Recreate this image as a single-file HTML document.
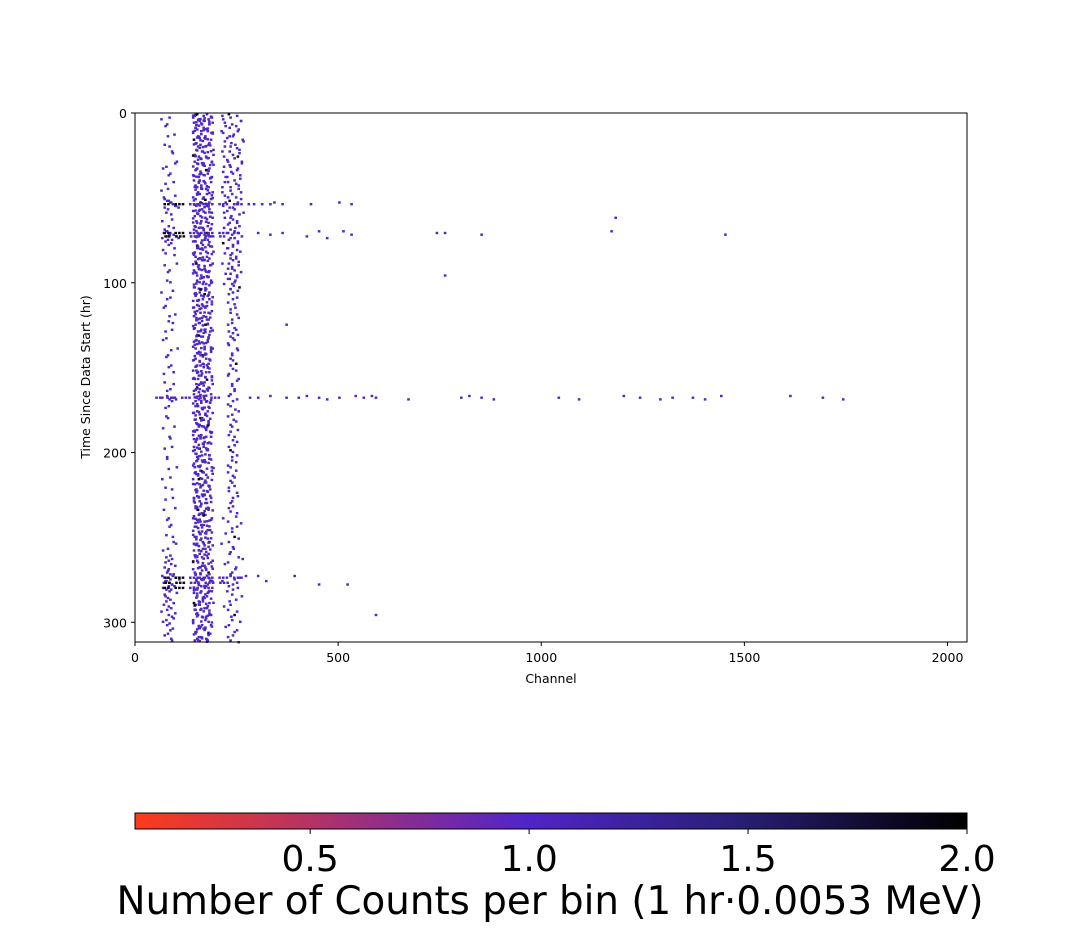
<!DOCTYPE html>
<html><head><meta charset="utf-8"><style>
body{margin:0;background:#fff;font-family:"DejaVu Sans",sans-serif;}
svg text{font-family:"DejaVu Sans",sans-serif;}
</style></head><body>
<svg id="chart" width="1074" height="932">
<defs><linearGradient id="cg" x1="0" x2="1" y1="0" y2="0">
<stop offset="0" stop-color="#fc3b1c"/><stop offset="0.2" stop-color="#b83460"/><stop offset="0.4" stop-color="#6b28b0"/><stop offset="0.47" stop-color="#5025c8"/><stop offset="0.72" stop-color="#2a1f78"/><stop offset="0.9" stop-color="#0e0a28"/><stop offset="1" stop-color="#000"/></linearGradient></defs>
<rect x="135" y="113" width="832" height="529" fill="#fff"/>
<g id="cells"></g>
<rect x="135" y="113" width="832" height="529" fill="none" stroke="#000" stroke-width="1"/>
<g id="axes"></g>
<text x="551" y="683" font-size="12.5" text-anchor="middle">Channel</text>
<text transform="translate(90,377) rotate(-90)" font-size="12.5" text-anchor="middle">Time Since Data Start (hr)</text>
<rect x="135" y="813" width="832" height="16" fill="url(#cg)" stroke="#000" stroke-width="1"/>
<g id="cbticks"></g>
<text x="550" y="914" font-size="38.8" text-anchor="middle">Number of Counts per bin (1 hr·0.0053 MeV)</text>
</svg>
<script>
// data
const xTicks=[0,500,1000,1500,2000];
const yTicks=[0,100,200,300];
const cbTicks=[0.5,1.0,1.5,2.0];
// dense band around channel 135-200
const bandBHours=[0,1,2,3,4,5,6,8,9,10,11,13,14,15,17,18,19,21,22,24,25,26,28,29,30,32,33,35,36,37,39,40,42,43,44,46,47,49,50,52,53,54,56,57,58,60,61,63,64,66,67,68,70,71,72,74,75,77,78,79,81,82,84,85,86,88,89,91,92,93,95,96,98,99,100,102,103,105,106,107,109,110,112,113,114,116,117,119,120,121,123,124,126,127,128,130,131,133,134,135,137,138,140,141,142,144,145,147,148,149,151,152,154,155,156,158,159,161,162,163,165,166,168,169,170,172,173,175,176,177,179,180,182,183,184,186,187,189,190,191,193,194,196,197,198,200,201,203,204,205,207,208,210,211,212,214,215,217,218,219,221,222,224,225,226,228,229,231,232,233,235,236,238,239,240,242,243,245,246,247,249,250,252,253,254,256,257,259,260,261,263,264,266,267,268,270,271,273,274,275,277,278,280,281,282,284,285,287,288,289,291,292,294,295,296,298,299,301,302,303,305,306,308,309,310];
const bandBCh1=[150,166,140,178,156,188,162,146,174,160,185,152,168,142,180,158,170,148,164,190,154,176,144,166,182,150,172,160,140,186,156,168,146,178,162,152,174,140,184,158,166,148,180,154,170,144,188,160,150,176,164,142,172,156,184,168,146,178,152,162,190,140,174,158,166,148,182,154,170,144,160,176,150,186,164,142,172,156,168,146,180,152,162,174,140,186,158,166,148,178,154,170,144,160,182,150,164,176,142,156,168,146,184,152,162,172,140,178,158,166,148,180,154,170,144,160,188,150,174,164,142,156,168,146,182,152,162,176,140,170,158,166,148,178,154,172,144,160,184,150,168,164,142,156,174,146,180,152,162,170,140,186,158,166,148,176,154,172,144,160,182,150,168,164,142,156,174,146,178,152,162,170,140,184,158,166,148,176,154,172,144,160,180,150,168,164,142,156,174,146,188,152,162,170,140,178,158,166,148,182,154,172,144,160,176,150,168,164,142,156,174,146,180,152,162,170,140,184,158,166,148,178,154,172,144,160,176,150,168,164,142,156,174,146];
const bandBCh2=[174,144,186,154,168,142,180,166,150,176,140,170,156,184,148,178,152,190,162,144,172,158,186,150,164,180,146,176,168,154,142,184,160,150,172,188,156,166,146,180,152,174,162,140,186,158,170,148,178,144,154,182,160,168,150,176,140,164,186,152,172,158,146,180,162,188,154,168,142,178,150,166,184,156,172,144,160,180,148,176,164,140,186,154,170,150,178,142,162,174,156,146,184,168,152,180,160,148,176,166,140,188,154,170,158,146,182,164,150,176,140,172,160,186,152,168,148,178,156,142,184,166,154,174,160,146,180,150,188,170,162,144,178,156,166,150,182,140,172,158,146,184,166,154,176,148,162,180,150,170,158,144,186,164,152,176,140,168,156,180,148,174,162,150,184,142,170,158,146,178,166,154,186,150,168,160,144,182,172,156,148,176,164,142,188,170,154,178,146,162,150,184,168,158,172,144,180,156,166,148,176,160,150,186,142,174,164,154,180,146,168,158,150,184,172,140,178,162,154,170,146,182,160,150,176,166,142,188,156,172];
// second band around channel 210-265
const bandCHours=[0,1,3,4,6,7,9,10,12,13,15,16,18,19,21,22,24,25,27,28,30,31,33,34,36,37,39,40,42,43,45,46,48,49,51,52,54,55,57,58,60,61,63,64,66,67,69,70,72,73,75,76,78,79,81,82,84,85,87,88,90,91,93,94,96,97,99,100,102,103,105,108,111,114,117,120,123,126,128,130,132,135,138,141,144,147,150,153,156,159,162,165,168,171,174,177,180,183,186,189,192,195,198,201,204,207,210,213,216,219,222,225,228,231,234,237,240,243,246,249,252,255,258,261,264,267,270,272,274,276,278,280,283,286,289,292,295,298,301,304,307,310];
const bandCCh=[228,248,214,258,236,220,252,210,240,230,262,218,244,232,254,212,238,250,224,260,230,216,248,234,256,220,242,226,252,212,232,258,218,246,230,250,214,238,224,264,234,218,248,230,254,216,242,226,260,232,250,214,238,224,256,218,246,232,252,212,236,226,258,220,248,230,242,216,254,232,238,248,226,244,232,252,236,242,228,250,238,226,248,236,232,246,238,228,252,236,242,232,248,226,244,236,240,232,250,228,238,242,232,248,236,226,246,238,232,242,228,250,236,238,232,246,226,248,236,242,228,238,232,252,226,246,236,232,242,248,228,238,236,246,232,226,242,236,228,248,238,232];
// sparse band around channel 62-110
const bandAHours=[2,6,12,18,22,28,31,35,40,44,48,50,51,52,53,54,55,58,62,66,68,69,70,71,72,73,74,76,79,82,88,92,98,104,108,113,118,122,127,132,138,142,148,152,158,162,166,167,168,172,178,184,190,196,202,208,214,220,226,232,238,242,248,252,256,260,262,264,266,268,270,271,272,273,274,275,276,277,278,279,280,282,284,286,288,290,292,294,296,298,300,303,306,309];
const bandACh=[82,76,94,70,88,100,74,84,92,78,96,70,80,86,90,98,104,74,88,80,70,76,84,92,98,104,78,86,94,72,100,82,76,90,84,72,96,80,88,74,102,78,86,92,70,84,76,90,98,80,74,94,82,88,76,100,84,72,90,96,80,86,74,92,78,84,88,72,96,80,76,84,90,98,106,74,82,88,94,78,86,100,72,84,92,80,76,96,88,74,82,90,78,86];
// horizontal streaks
const streakHours=[53,70,72,167,273,276,279];
const streakStart=[70,70,72,50,70,72,70];
const streakEnd=[280,250,220,210,260,240,200];
const streakCounts=[2,2,2,1,2,2,2];
// isolated points
const strayCh=[290,310,330,340,360,430,500,530,300,330,360,420,450,470,510,530,740,760,850,1170,1180,1450,760,370,280,300,330,370,400,420,450,470,500,540,560,580,590,670,800,820,850,880,1040,1090,1200,1240,1290,1320,1370,1400,1440,1610,1690,1740,270,300,320,390,450,520,590];
const strayHr=[53,53,53,52,53,53,52,53,70,71,70,72,69,73,69,71,70,70,71,69,61,71,95,124,167,167,166,167,167,166,167,168,167,166,167,166,167,168,167,166,167,168,167,168,166,167,168,167,167,168,166,166,167,168,272,272,275,272,277,277,295];
const chMax=2048, hrMax=311.6;
const X=c=>135+c/chMax*832, Y=h=>113+h/hrMax*529;
const ns="http://www.w3.org/2000/svg";
const cells=document.getElementById('cells');
function cell(c,h,n){const r=document.createElementNS(ns,'rect');
r.setAttribute('x',X(c).toFixed(1));r.setAttribute('y',Y(h).toFixed(1));r.setAttribute('width',2.6);r.setAttribute('height',2.4);
r.setAttribute('fill',n>=2?'#0a0612':'#5028c4');


cells.appendChild(r);}
const nB=bandBHours.length;
bandBHours.forEach((h,i)=>{cell(bandBCh1[i],h,i%13==0?2:1);cell(bandBCh2[i],h,1);
 cell(bandBCh1[(i+37)%nB],h+0.8,1);cell(bandBCh2[(i+91)%nB],h+0.4,i%19==0?2:1);});
const nC=bandCHours.length;
bandCHours.forEach((h,i)=>{cell(bandCCh[i],h,i%17==0?2:1);cell(bandCCh[(i+29)%nC],h+1,1);});
const nA=bandAHours.length;
bandAHours.forEach((h,i)=>{cell(bandACh[i],h,1);cell(bandACh[(i+11)%nA]-8,h+1,1);});
streakHours.forEach((h,i)=>{let k=0;for(let c=streakStart[i];c<=streakEnd[i];c+=9){k++;if(k%4==3)continue;cell(c,h,(c<130&&streakCounts[i]==2)?2:1);}});
strayCh.forEach((c,i)=>cell(c,strayHr[i],1));
const ax=document.getElementById('axes');
function t(x,y,s,a,size,name,g){const e=document.createElementNS(ns,'text');e.setAttribute('x',x);e.setAttribute('y',y);e.setAttribute('font-size',size);e.setAttribute('text-anchor',a);e.textContent=s;


g.appendChild(e);}
function l(x1,y1,x2,y2,g){const e=document.createElementNS(ns,'line');e.setAttribute('x1',x1);e.setAttribute('y1',y1);e.setAttribute('x2',x2);e.setAttribute('y2',y2);e.setAttribute('stroke','#000');g.appendChild(e);}
xTicks.forEach(v=>{l(X(v),642,X(v),646,ax);t(X(v),662,v,'middle',12.5,'x-tick-label',ax);});
yTicks.forEach(v=>{l(131,Y(v),135,Y(v),ax);t(127,Y(v)+5,v,'end',12.5,'y-tick-label',ax);});
const cb=document.getElementById('cbticks');
const CB=v=>135+(v-0.1)/1.9*832;
cbTicks.forEach(v=>{l(CB(v),829,CB(v),834,cb);t(CB(v),871,v.toFixed(1),'middle',36,'colorbar-tick-label',cb);});
</script>
</body></html>
